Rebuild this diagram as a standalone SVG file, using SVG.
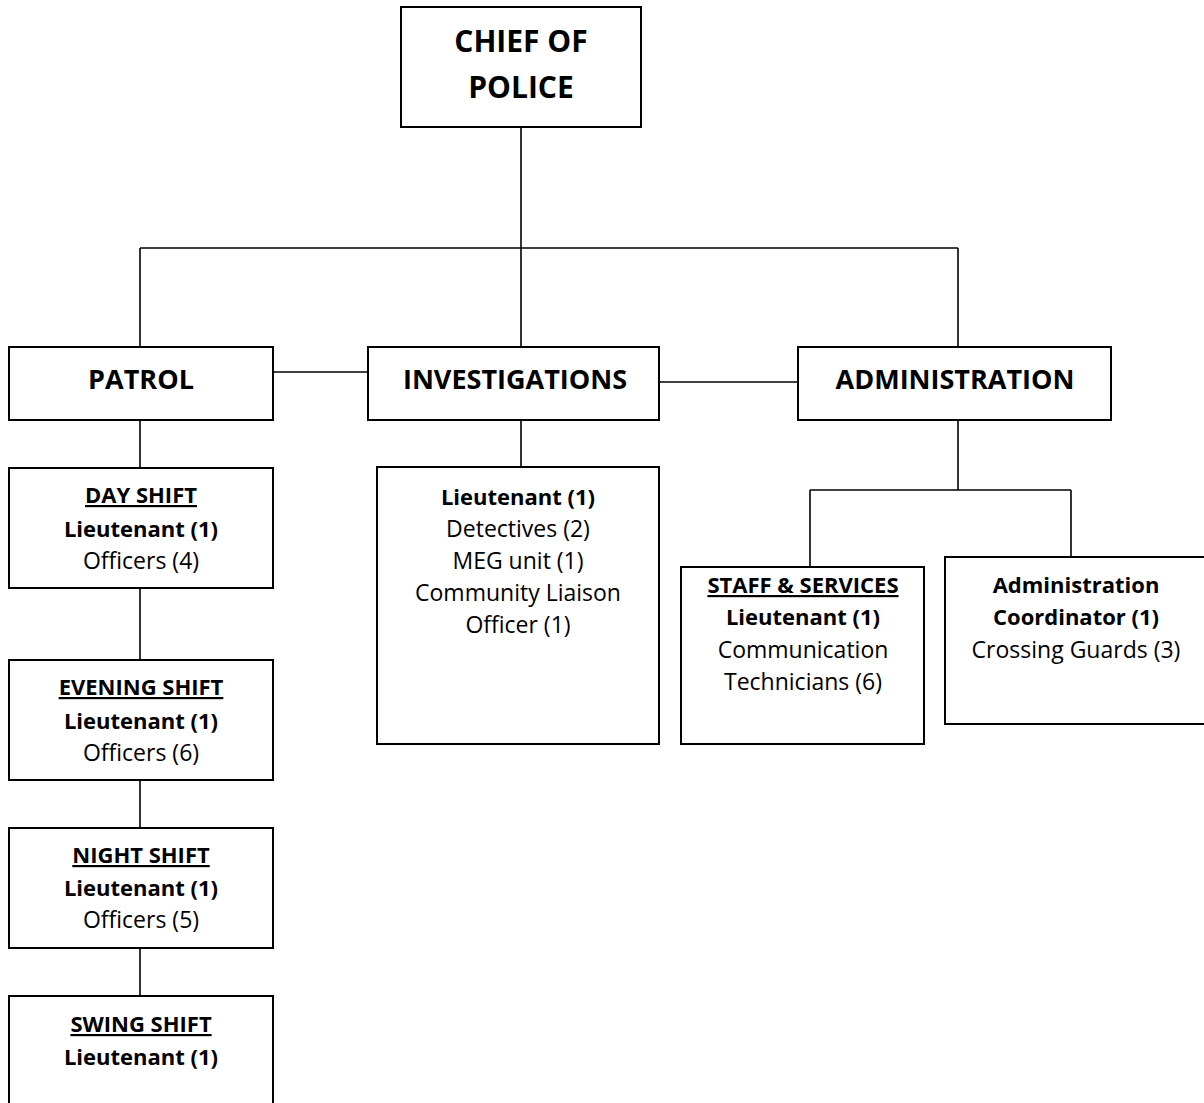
<svg xmlns="http://www.w3.org/2000/svg" width="1204" height="1103" viewBox="0 0 1204 1103">
<style>
.box{fill:#fff;stroke:#000;stroke-width:2}
.con line{stroke:#000;stroke-width:1.6}
text{font-family:"Open Sans","Noto Sans","DejaVu Sans",sans-serif;fill:#000;text-anchor:middle}
.c{font-size:30px;font-weight:bold}
.h{font-size:27px;font-weight:bold}
.b{font-size:22px;font-weight:bold}
.r{font-size:23px}
.u{text-decoration:underline}
</style>
<rect width="1204" height="1103" fill="#fff"/>
<g id="connectors" class="con">
<line x1="521" y1="127" x2="521" y2="248"/>
<line x1="140" y1="248" x2="958" y2="248"/>
<line x1="140" y1="248" x2="140" y2="347"/>
<line x1="521" y1="248" x2="521" y2="347"/>
<line x1="958" y1="248" x2="958" y2="347"/>
<line x1="273" y1="372" x2="368" y2="372"/>
<line x1="659" y1="382" x2="798" y2="382"/>
<line x1="140" y1="420" x2="140" y2="468"/>
<line x1="140" y1="588" x2="140" y2="660"/>
<line x1="140" y1="780" x2="140" y2="828"/>
<line x1="140" y1="948" x2="140" y2="996"/>
<line x1="521" y1="420" x2="521" y2="467"/>
<line x1="958" y1="420" x2="958" y2="490"/>
<line x1="810" y1="490" x2="1071" y2="490"/>
<line x1="810" y1="490" x2="810" y2="567"/>
<line x1="1071" y1="490" x2="1071" y2="557"/>
</g>
<g id="chief">
<rect class="box" x="401" y="7" width="240" height="120"/>
<text class="c" x="521" y="52">CHIEF OF</text>
<text class="c" x="521" y="98">POLICE</text>
</g>
<g id="patrol">
<rect class="box" x="9" y="347" width="264" height="73"/>
<text class="h" x="141" y="389">PATROL</text>
</g>
<g id="investigations">
<rect class="box" x="368" y="347" width="291" height="73"/>
<text class="h" x="515" y="389">INVESTIGATIONS</text>
</g>
<g id="administration">
<rect class="box" x="798" y="347" width="313" height="73"/>
<text class="h" x="955" y="389">ADMINISTRATION</text>
</g>
<g id="day-shift">
<rect class="box" x="9" y="468" width="264" height="120"/>
<text class="b u" x="141" y="503">DAY SHIFT</text>
<text class="b" x="141" y="537">Lieutenant (1)</text>
<text class="r" x="141" y="569">Officers (4)</text>
</g>
<g id="evening-shift">
<rect class="box" x="9" y="660" width="264" height="120"/>
<text class="b u" x="141" y="695">EVENING SHIFT</text>
<text class="b" x="141" y="729">Lieutenant (1)</text>
<text class="r" x="141" y="761">Officers (6)</text>
</g>
<g id="night-shift">
<rect class="box" x="9" y="828" width="264" height="120"/>
<text class="b u" x="141" y="863">NIGHT SHIFT</text>
<text class="b" x="141" y="896">Lieutenant (1)</text>
<text class="r" x="141" y="928">Officers (5)</text>
</g>
<g id="swing-shift">
<rect class="box" x="9" y="996" width="264" height="120"/>
<text class="b u" x="141" y="1032">SWING SHIFT</text>
<text class="b" x="141" y="1065">Lieutenant (1)</text>
</g>
<g id="investigations-staff">
<rect class="box" x="377" y="467" width="282" height="277"/>
<text class="b" x="518" y="505">Lieutenant (1)</text>
<text class="r" x="518" y="537">Detectives (2)</text>
<text class="r" x="518" y="569">MEG unit (1)</text>
<text class="r" x="518" y="601">Community Liaison</text>
<text class="r" x="518" y="633">Officer (1)</text>
</g>
<g id="staff-services">
<rect class="box" x="681" y="567" width="243" height="177"/>
<text class="b u" x="803" y="593">STAFF &amp; SERVICES</text>
<text class="b" x="803" y="625">Lieutenant (1)</text>
<text class="r" x="803" y="658">Communication</text>
<text class="r" x="803" y="690">Technicians (6)</text>
</g>
<g id="admin-coordinator">
<rect class="box" x="945" y="557" width="262" height="167"/>
<text class="b" x="1076" y="593">Administration</text>
<text class="b" x="1076" y="625">Coordinator (1)</text>
<text class="r" x="1076" y="658">Crossing Guards (3)</text>
</g>
</svg>
